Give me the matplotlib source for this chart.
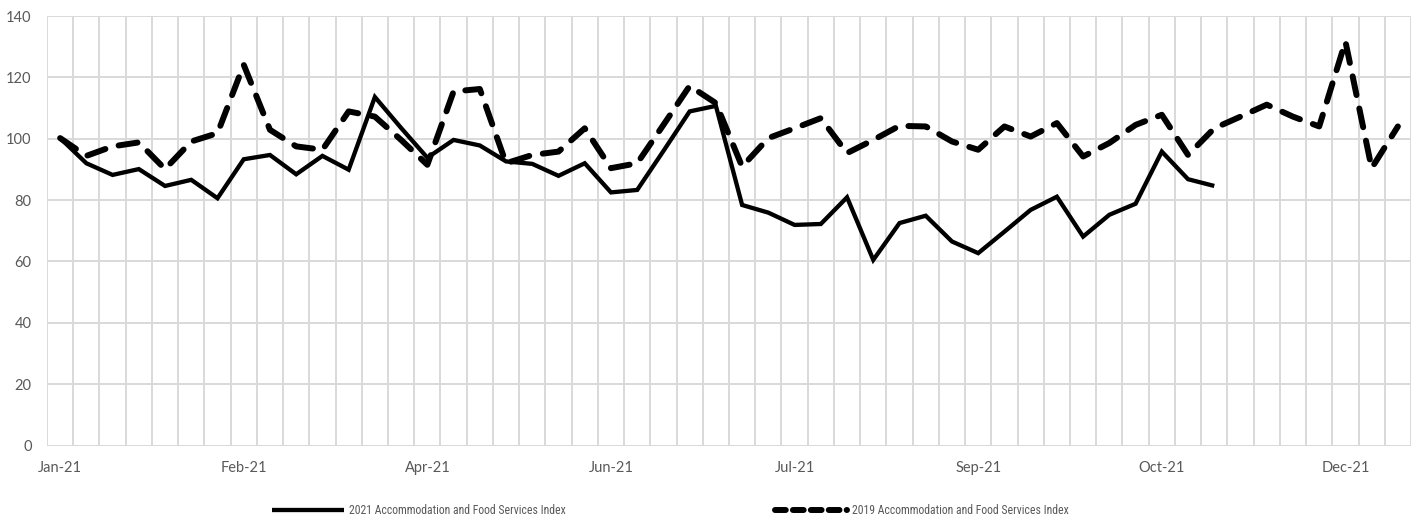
import matplotlib
matplotlib.use("Agg")
import matplotlib.pyplot as plt
from matplotlib.ticker import FixedLocator, MultipleLocator

# Weekly index values (52 weeks)
idx_2021 = [100.2, 92.0, 88.2, 90.1, 84.6, 86.6, 80.6, 93.3, 94.7, 88.4,
            94.4, 89.9, 113.6, 103.5, 93.8, 99.6, 97.8, 92.6, 91.8, 87.9,
            92.0, 82.5, 83.3, 96.0, 108.9, 110.7, 78.4, 75.9, 71.9, 72.2,
            80.9, 60.5, 72.5, 74.9, 66.5, 62.7, 69.7, 76.8, 81.1, 68.1,
            75.2, 78.8, 95.8, 86.8, 84.6]
idx_2019 = [100.2, 94.4, 97.5, 98.8, 90.1, 99.1, 101.8, 124.1, 102.9, 97.5,
            96.4, 108.9, 107.2, 99.6, 91.5, 115.4, 116.2, 92.0, 94.7, 95.8,
            103.4, 90.4, 92.0, 104.5, 117.2, 111.6, 90.9, 100.2, 103.4, 106.7,
            95.3, 99.6, 104.2, 104.0, 99.1, 96.4, 104.0, 100.7, 105.1, 94.2,
            98.6, 104.5, 107.8, 94.7, 103.4, 107.2, 111.1, 107.2, 104.0, 131.7,
            90.4, 104.0]
tick_labels = ["Jan-21", "Feb-21", "Apr-21", "Jun-21", "Jul-21", "Sep-21",
               "Oct-21", "Dec-21"]
tick_step = 7

label_2021 = "2021 Accommodation and Food Services Index"
label_2019 = "2019 Accommodation and Food Services Index"

plt.rcParams["font.family"] = ["Lato", "DejaVu Sans"]

fig = plt.figure(figsize=(14.21, 5.27), dpi=100)
ax = fig.add_axes([47 / 1421, 1 - 445.5 / 527, (1411 - 47) / 1421, (445.5 - 16) / 527])

n = len(idx_2019)
ax.plot(range(len(idx_2021)), idx_2021, color="black", lw=3.1,
        solid_joinstyle="miter", solid_capstyle="butt", label=label_2021)
ax.plot(range(n), idx_2019, color="black", lw=4.3, dashes=(3.2, 2.3),
        dash_capstyle="round", dash_joinstyle="round", label=label_2019)

ax.set_xlim(-0.5, n - 0.5)
ax.set_ylim(0, 140)
ax.yaxis.set_major_locator(MultipleLocator(20))
ax.xaxis.set_major_locator(FixedLocator(list(range(0, n, tick_step))))
ax.set_xticklabels(tick_labels)
ax.xaxis.set_minor_locator(FixedLocator([i - 0.5 for i in range(n + 1)]))

ax.grid(True, which="minor", axis="x", color="#d9d9d9", lw=1.4)
ax.grid(True, which="major", axis="y", color="#d9d9d9", lw=1.4)
ax.set_axisbelow(True)
for s in ax.spines.values():
    s.set_visible(False)
ax.tick_params(axis="both", which="both", length=0, labelsize=10.5,
               labelcolor="#595959")
ax.tick_params(axis="x", pad=11)
ax.tick_params(axis="y", pad=11)

leg_size = 8.5
px_per_em = leg_size * 100 / 72
leg = fig.legend(loc="center", bbox_to_anchor=(670 / 1421, 1 - 511 / 527), ncol=2,
                 frameon=False, handlelength=72 / px_per_em,
                 handletextpad=5 / px_per_em, columnspacing=209 / px_per_em,
                 prop={"family": ["Roboto Condensed", "Lato"], "size": leg_size})
# shorter dash pattern in the legend key
leg.legend_handles[1].set_dashes((1.8, 1.2))
for t in leg.get_texts():
    t.set_color("#595959")

fig.savefig("out.png", dpi=100)
